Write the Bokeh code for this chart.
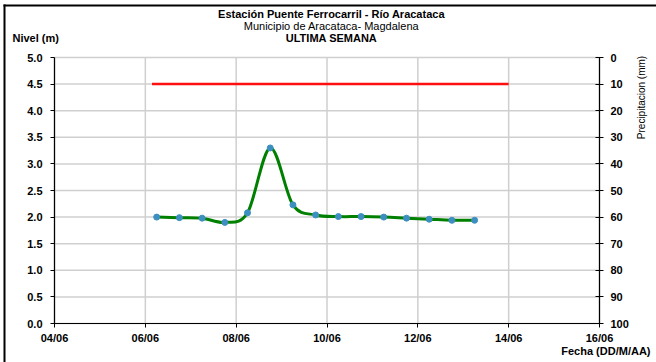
import numpy as np
import pandas as pd
from math import pi
from bokeh.plotting import figure
from bokeh.models import (Range1d, LinearAxis, DatetimeAxis, FixedTicker, DatetimeTickFormatter,
                          NumeralTickFormatter, Label, ColumnDataSource, BoxAnnotation)
from bokeh.embed import file_html
from bokeh.resources import INLINE

# ---------------- data ----------------
fechas = ["2014-06-06 06:00", "2014-06-06 18:00", "2014-06-07 06:00", "2014-06-07 18:00",
          "2014-06-08 06:00", "2014-06-08 18:00", "2014-06-09 06:00", "2014-06-09 18:00",
          "2014-06-10 06:00", "2014-06-10 18:00", "2014-06-11 06:00", "2014-06-11 18:00",
          "2014-06-12 06:00", "2014-06-12 18:00", "2014-06-13 06:00"]
nivel = [2.00, 1.99, 1.98, 1.90, 2.08, 3.30, 2.23, 2.04, 2.01, 2.01, 2.00, 1.98, 1.96, 1.94, 1.94]

alerta_fechas = ["2014-06-06 03:30", "2014-06-14 00:00"]
alerta_nivel = [4.5, 4.5]

ticks_fecha = ["2014-06-04", "2014-06-06", "2014-06-08", "2014-06-10",
               "2014-06-12", "2014-06-14", "2014-06-16"]
ticks_nivel = [0.0, 0.5, 1.0, 1.5, 2.0, 2.5, 3.0, 3.5, 4.0, 4.5, 5.0]
ticks_precip = [0, 10, 20, 30, 40, 50, 60, 70, 80, 90, 100]

titulo1 = "Estación Puente Ferrocarril - Río Aracataca"
titulo2 = "Municipio de Aracataca- Magdalena"
titulo3 = "ULTIMA SEMANA"


def to_ms(lst):
    return pd.to_datetime(lst).values.astype("datetime64[ms]").astype("int64").astype(float)


x = to_ms(fechas)
y = np.array(nivel, dtype=float)
xt = to_ms(ticks_fecha)

# smoothed (Catmull-Rom style) bezier segments built from the data
xe = np.concatenate([[x[0]], x, [x[-1]]])
ye = np.concatenate([[y[0]], y, [y[-1]]])
n = len(x)
seg = dict(x0=[], y0=[], x1=[], y1=[], cx0=[], cy0=[], cx1=[], cy1=[])
for i in range(n - 1):
    j = i + 1
    seg["x0"].append(xe[j]); seg["y0"].append(ye[j])
    seg["x1"].append(xe[j + 1]); seg["y1"].append(ye[j + 1])
    seg["cx0"].append(xe[j] + (xe[j + 1] - xe[j - 1]) / 6)
    seg["cy0"].append(ye[j] + (ye[j + 1] - ye[j - 1]) / 6)
    seg["cx1"].append(xe[j + 1] - (xe[j + 2] - xe[j]) / 6)
    seg["cy1"].append(ye[j + 1] - (ye[j + 2] - ye[j]) / 6)

FONT = "Liberation Sans"
W, H = 656, 362
# plot-area placement on the canvas (pixels)
PX0, PX1, PY0, PY1 = 54, 599, 57, 323

xmin, xmax = xt[0], xt[-1]
ymin, ymax = ticks_nivel[0], ticks_nivel[-1]
sx = (xmax - xmin) / (PX1 - PX0)          # data units per pixel (x)
sy = (ymax - ymin) / (PY1 - PY0)          # data units per pixel (y)
x_range = Range1d(xmin - PX0 * sx, xmax + (W - PX1) * sx)
y_range = Range1d(ymin - (H - PY1) * sy, ymax + PY0 * sy)

p = figure(width=W, height=H, output_backend="svg", toolbar_location=None,
           x_range=x_range, y_range=y_range, x_axis_location=None, y_axis_location=None,
           min_border=0, min_border_left=0, min_border_right=0,
           min_border_top=0, min_border_bottom=0)
p.outline_line_color = None
p.background_fill_color = "white"
p.border_fill_color = "white"
p.xgrid.visible = False
p.ygrid.visible = False
p.title.visible = False

# precipitation scale: 0 at the top of the plot area, 100 at the bottom
pmax = ticks_precip[-1]
def nivel_a_precip(v):
    return (ymax - v) / (ymax - ymin) * pmax
p.extra_y_ranges = {"precip": Range1d(nivel_a_precip(y_range.start), nivel_a_precip(y_range.end))}

ax_x = DatetimeAxis(ticker=FixedTicker(ticks=list(xt)), fixed_location=ymin, bounds=(xmin, xmax),
                    formatter=DatetimeTickFormatter(days="%d/%m", months="%d/%m", hours="%d/%m"))
ax_l = LinearAxis(ticker=FixedTicker(ticks=ticks_nivel), fixed_location=xmin, bounds=(ymin, ymax),
                  formatter=NumeralTickFormatter(format="0.0"))
ax_r = LinearAxis(y_range_name="precip", ticker=FixedTicker(ticks=ticks_precip),
                  fixed_location=xmax, bounds=(0, pmax))
p.add_layout(ax_x, "below")
p.add_layout(ax_l, "left")
p.add_layout(ax_r, "right")

# grid lines (from the tick lists)
p.segment(x0=list(xt), y0=[ymin] * len(xt), x1=list(xt), y1=[ymax] * len(xt),
          line_color="#cfcfcf", line_width=1.5)
p.segment(x0=[xmin] * len(ticks_nivel), y0=ticks_nivel, x1=[xmax] * len(ticks_nivel),
          y1=ticks_nivel, line_color="#cfcfcf", line_width=1.5)

for ax in [ax_x, ax_l, ax_r]:
    ax.major_label_text_font = FONT
    ax.major_label_text_font_style = "bold"
    ax.major_label_text_font_size = "11px"
    ax.major_label_text_color = "black"
    ax.axis_line_color = "black"
    ax.axis_line_width = 1.2
    ax.major_tick_line_color = "black"
    ax.minor_tick_line_color = None
    ax.major_tick_in = 0
    ax.major_tick_out = 4
ax_r.major_tick_in = 4
ax_r.major_tick_out = 4
ax_r.major_label_standoff = 7
ax_x.major_label_standoff = 4
ax_l.major_label_standoff = 8

# alert line
p.line(to_ms(alerta_fechas), alerta_nivel, line_color="#ff1010", line_width=2.5)

# smoothed level curve
p.bezier(x0="x0", y0="y0", x1="x1", y1="y1", cx0="cx0", cy0="cy0", cx1="cx1", cy1="cy1",
         source=ColumnDataSource(seg), line_color="#008000", line_width=3)
p.scatter(x, y, size=6, fill_color="#3c8fc0", line_color="#3c8fc0")

# black frame on the left and top of the picture
for l, r, t, b in [(3, 5, H - 4, 0), (3, W, H - 4, H - 6)]:
    p.add_layout(BoxAnnotation(left=l, right=r, top=t, bottom=b,
                               left_units="screen", right_units="screen",
                               top_units="screen", bottom_units="screen",
                               fill_color="black", fill_alpha=1, line_color=None))

# texts: screen units measured from the frame's bottom-left corner (= canvas corner)
def lab(txt, px, py, size, bold=False, align="center", angle=0.0):
    p.add_layout(Label(x=px, y=H - py, x_units="screen", y_units="screen",
                       text=txt, text_font=FONT, text_font_size=size,
                       text_font_style="bold" if bold else "normal",
                       text_align=align, text_baseline="middle", angle=angle,
                       text_color="black"))

lab(titulo1, 331, 13, "11px", bold=True)
lab(titulo2, 331, 25, "11px")
lab(titulo3, 331, 37, "11px", bold=True)
lab("Nivel (m)", 12, 37, "11px", bold=True, align="left")
lab("Fecha (DD/M/AA)", 650, 350, "11px", bold=True, align="right")
lab("Precipitacion (mm)", 641, 97, "10px", angle=pi / 2)

open("out.html", "w").write(file_html(p, INLINE))
